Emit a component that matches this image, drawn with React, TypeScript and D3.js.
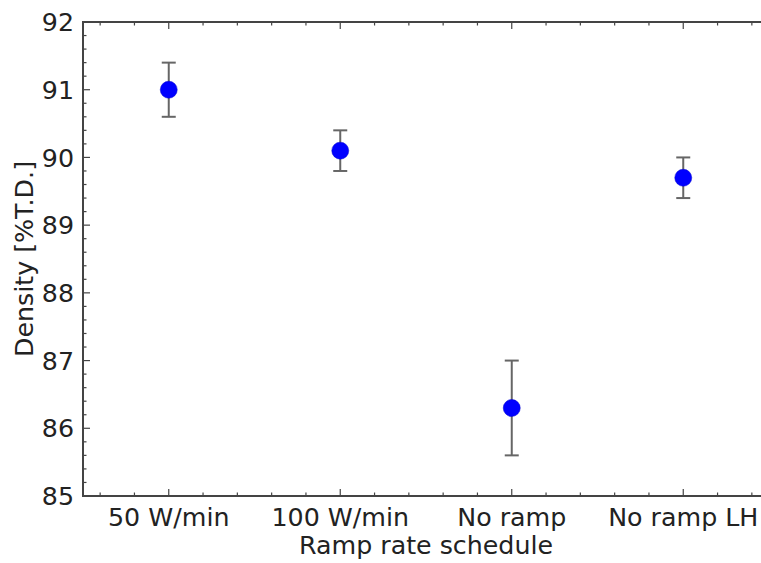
import React, { useEffect, useRef } from "react";
import * as d3 from "d3";

const categories = ["50 W/min", "100 W/min", "No ramp", "No ramp LH"];
const densities = [91.0, 90.1, 86.3, 89.7];
const errLow = [90.6, 89.8, 85.6, 89.4];
const errHigh = [91.4, 90.4, 87.0, 90.0];
const yTicks = [85, 86, 87, 88, 89, 90, 91, 92];

const W = 761;
const H = 563;
const M = { left: 83, top: 22, right: 769, bottom: 496 };

export default function App() {
  const ref = useRef<SVGSVGElement>(null);
  useEffect(() => {
    const svg = d3.select(ref.current);
    svg.selectAll("*").remove();
    const x = d3.scaleLinear().domain([-0.5, 3.5]).range([M.left, M.right]);
    const y = d3.scaleLinear().domain([85, 92]).range([M.bottom, M.top]);
    const axisColor = "#444";
    const font = "DejaVu Sans, sans-serif";
    const fs = 25.3;
    const g = svg.append("g");

    // ticks
    const xMinor = d3.range(-0.4, 3.5, 0.2).filter((v) => Math.abs(v - Math.round(v)) > 0.01);
    const yMinor = d3.range(85, 92.001, 0.2).filter((v) => Math.abs(v - Math.round(v)) > 0.01);
    const tickG = g.append("g").attr("stroke", axisColor).attr("stroke-width", 1.2);
    categories.forEach((_, i) => {
      tickG.append("line").attr("x1", x(i)).attr("x2", x(i)).attr("y1", M.bottom).attr("y2", M.bottom - 7);
      tickG.append("line").attr("x1", x(i)).attr("x2", x(i)).attr("y1", M.top).attr("y2", M.top + 7);
    });
    xMinor.forEach((v) => {
      tickG.append("line").attr("x1", x(v)).attr("x2", x(v)).attr("y1", M.bottom).attr("y2", M.bottom - 3.5);
      tickG.append("line").attr("x1", x(v)).attr("x2", x(v)).attr("y1", M.top).attr("y2", M.top + 3.5);
    });
    yTicks.forEach((v) => {
      tickG.append("line").attr("x1", M.left).attr("x2", M.left + 7).attr("y1", y(v)).attr("y2", y(v));
    });
    yMinor.forEach((v) => {
      tickG.append("line").attr("x1", M.left).attr("x2", M.left + 3.5).attr("y1", y(v)).attr("y2", y(v));
    });

    // spines
    g.append("rect")
      .attr("x", M.left)
      .attr("y", M.top)
      .attr("width", M.right - M.left)
      .attr("height", M.bottom - M.top)
      .attr("fill", "none")
      .attr("stroke", axisColor)
      .attr("stroke-width", 2);

    // tick labels
    yTicks.forEach((v) => {
      g.append("text")
        .attr("x", M.left - 9)
        .attr("y", y(v))
        .attr("dy", "0.36em")
        .attr("text-anchor", "end")
        .attr("font-family", font)
        .attr("font-size", fs)
        .attr("fill", "#222")
        .text(String(v));
    });
    categories.forEach((c, i) => {
      g.append("text")
        .attr("x", x(i))
        .attr("y", 526)
        .attr("text-anchor", "middle")
        .attr("font-family", font)
        .attr("font-size", fs)
        .attr("fill", "#222")
        .text(c);
    });

    // axis labels
    g.append("text")
      .attr("x", (M.left + M.right) / 2)
      .attr("y", 554)
      .attr("text-anchor", "middle")
      .attr("font-family", font)
      .attr("font-size", fs)
      .attr("fill", "#222")
      .text("Ramp rate schedule");
    g.append("text")
      .attr("transform", `translate(33, ${(M.top + M.bottom) / 2}) rotate(-90)`)
      .attr("text-anchor", "middle")
      .attr("font-family", font)
      .attr("font-size", fs)
      .attr("fill", "#222")
      .text("Density [%T.D.]");

    // error bars
    const eb = g.append("g").attr("stroke", "#666").attr("stroke-width", 2);
    categories.forEach((_, i) => {
      eb.append("line").attr("x1", x(i)).attr("x2", x(i)).attr("y1", y(errLow[i])).attr("y2", y(errHigh[i]));
      eb.append("line").attr("x1", x(i) - 7).attr("x2", x(i) + 7).attr("y1", y(errLow[i])).attr("y2", y(errLow[i]));
      eb.append("line").attr("x1", x(i) - 7).attr("x2", x(i) + 7).attr("y1", y(errHigh[i])).attr("y2", y(errHigh[i]));
    });

    // points
    g.append("g")
      .selectAll("circle")
      .data(densities)
      .join("circle")
      .attr("cx", (_, i) => x(i))
      .attr("cy", (d) => y(d))
      .attr("r", 8.5)
      .attr("fill", "#0000ff")
      .attr("stroke", "#0000cc")
      .attr("stroke-width", 0.5);
  }, []);
  return (
    <div style={{ position: "fixed", left: 0, top: 0, width: W, height: H, background: "#fff" }}>
      <svg ref={ref} width={W} height={H} style={{ display: "block" }} />
    </div>
  );
}
